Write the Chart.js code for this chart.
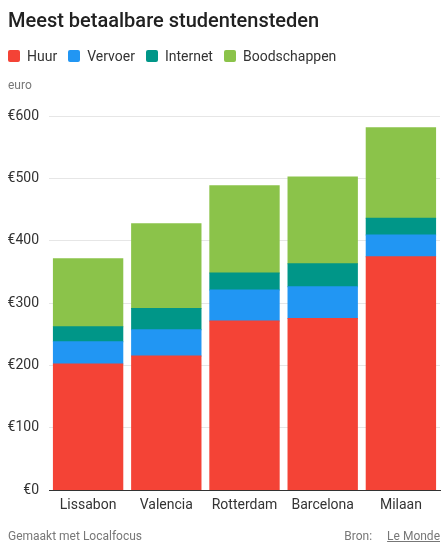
<!DOCTYPE html>
<html>
<head>
<meta charset="utf-8">
<script src="https://cdn.jsdelivr.net/npm/chart.js@4"></script>
<style>
  html, body { margin: 0; padding: 0; background: #fff; }
  #wrap { position: relative; width: 448px; height: 550px; font-family: Roboto, sans-serif; overflow: hidden; }
  #chart { position: absolute; left: 0; top: 0; }
  .txt { position: absolute; white-space: nowrap; }
  #title { left: 8px; top: 8px; font-size: 20px; line-height: 24px; font-weight: 500; color: #212121; }
  #legend { left: 8px; top: 47px; height: 18px; display: flex; align-items: center; font-size: 14px; line-height: 18px; color: #333; }
  #legend .item { display: flex; align-items: center; margin-right: 11px; }
  #legend .box { width: 12px; height: 12px; border-radius: 2px; margin-right: 7px; }
  #unit { left: 8px; top: 78px; font-size: 12px; line-height: 14px; color: #777; }
  #made { left: 8px; top: 529px; font-size: 12px; line-height: 14px; color: #777; }
  #src { right: 8px; top: 529px; font-size: 12px; line-height: 14px; color: #777; }
  #src span { text-decoration: underline; margin-left: 15px; }
</style>
</head>
<body>
<div id="wrap">
  <canvas id="chart" width="448" height="550"></canvas>
  <div class="txt" id="title">Meest betaalbare studentensteden</div>
  <div class="txt" id="legend"></div>
  <div class="txt" id="unit">euro</div>
  <div class="txt" id="made">Gemaakt met Localfocus</div>
  <div class="txt" id="src">Bron:<span>Le Monde</span></div>
</div>
<script>
const categories = ['Lissabon', 'Valencia', 'Rotterdam', 'Barcelona', 'Milaan'];
const seriesNames = ['Huur', 'Vervoer', 'Internet', 'Boodschappen'];
const huur = [202, 215, 271, 275, 374];
const vervoer = [36, 42, 50, 51, 35];
const internet = [24, 34, 27, 37, 27];
const boodschappen = [109, 136, 140, 139, 145];
const yTicks = [0, 100, 200, 300, 400, 500, 600];
const seriesColors = ['#F44336', '#2196F3', '#009688', '#8BC34A'];

const seriesValues = [huur, vervoer, internet, boodschappen];

const chart = new Chart(document.getElementById('chart'), {
  type: 'bar',
  data: {
    labels: categories,
    datasets: seriesNames.map((name, i) => ({
      label: name,
      data: seriesValues[i],
      backgroundColor: seriesColors[i],
      borderWidth: 0,
      inflateAmount: 0.5,
      categoryPercentage: 1.0,
      barPercentage: 0.887
    }))
  },
  options: {
    responsive: false,
    animation: false,
    devicePixelRatio: 1,
    layout: { padding: { top: 116, left: 0, right: 8, bottom: 30 } },
    plugins: {
      legend: { display: false },
      title: { display: false },
      tooltip: { enabled: false }
    },
    scales: {
      x: {
        stacked: true,
        grid: { display: false, drawTicks: false },
        border: { display: true, color: '#333', width: 1 },
        ticks: { color: '#333', font: { family: 'Roboto', size: 14 }, padding: 7 },
        afterFit: (s) => { s.height = 30; }
      },
      y: {
        stacked: true,
        min: 0,
        max: 600,
        afterBuildTicks: (s) => { s.ticks = yTicks.map(v => ({ value: v })); },
        grid: { color: '#e6e6e6', lineWidth: 1, drawTicks: false },
        border: { display: false },
        ticks: {
          color: '#333',
          font: { family: 'Roboto', size: 14 },
          padding: 10,
          callback: (v) => '€' + v
        },
        afterFit: (s) => { s.width = 49; }
      }
    }
  }
});

// HTML legend built from the chart's own legend items
const legendEl = document.getElementById('legend');
chart.options.plugins.legend.labels.generateLabels(chart).forEach(item => {
  const it = document.createElement('div');
  it.className = 'item';
  const box = document.createElement('div');
  box.className = 'box';
  box.style.background = item.fillStyle;
  const lab = document.createElement('span');
  lab.textContent = item.text;
  it.appendChild(box);
  it.appendChild(lab);
  legendEl.appendChild(it);
});
</script>
</body>
</html>
